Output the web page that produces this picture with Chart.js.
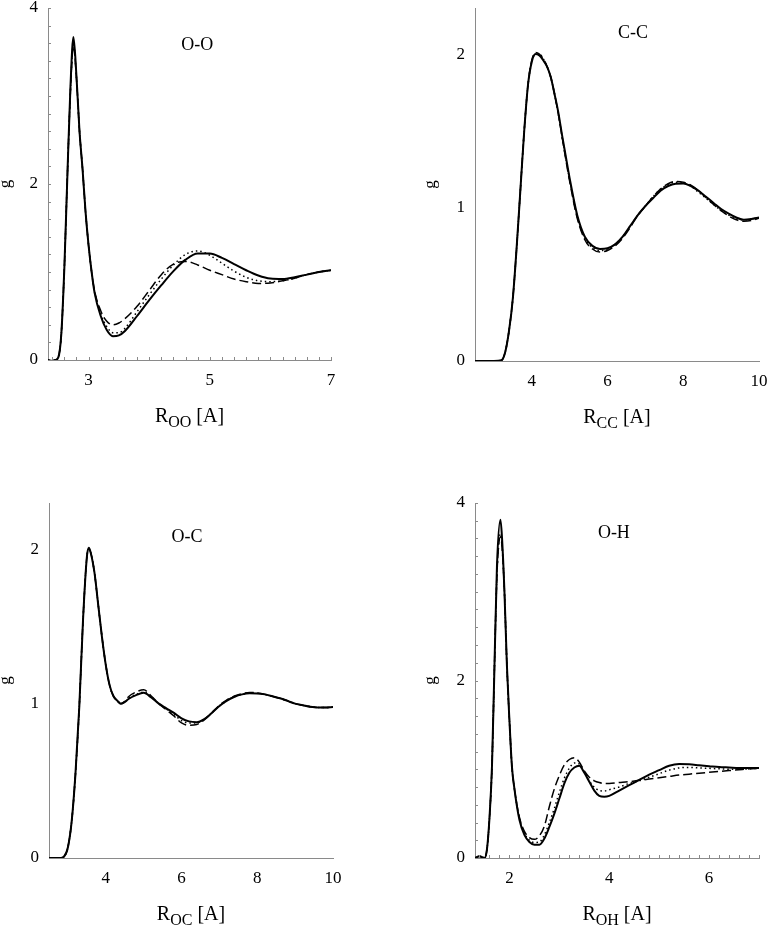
<!DOCTYPE html>
<html>
<head>
<meta charset="utf-8">
<script src="https://cdn.jsdelivr.net/npm/chart.js@4.4.1/dist/chart.umd.min.js"></script>
<style>
html,body{margin:0;padding:0;background:#fff;}
#wrap{position:relative;width:768px;height:927px;overflow:hidden;}
canvas{position:absolute;}
</style>
</head>
<body>
<div id="wrap">
<canvas id="c1" style="left:0;top:0;width:384px;height:463px"></canvas>
<canvas id="c2" style="left:384px;top:0;width:384px;height:463px"></canvas>
<canvas id="c3" style="left:0;top:463px;width:384px;height:464px"></canvas>
<canvas id="c4" style="left:384px;top:463px;width:384px;height:464px"></canvas>
</div>
<script>
// ---------- O-O ----------
const rOO = [2.33, 2.4, 2.45, 2.5, 2.55, 2.6, 2.65, 2.7, 2.75, 2.8, 2.85, 2.9, 2.95, 3.0, 3.05, 3.1, 3.2, 3.3, 3.4, 3.5, 3.6, 3.8, 4.0, 4.2, 4.4, 4.6, 4.8, 5.0, 5.2, 5.4, 5.6, 5.8, 6.0, 6.2, 6.4, 6.6, 6.8, 7.0];
const gOOsolid  = [0, -0.01, 0.0, 0.03, 0.3, 1.05, 2.1, 3.1, 3.67, 3.22, 2.6, 2.17, 1.68, 1.3, 1.0, 0.76, 0.50, 0.34, 0.27, 0.28, 0.33, 0.50, 0.68, 0.85, 1.01, 1.14, 1.21, 1.21, 1.16, 1.09, 1.02, 0.96, 0.925, 0.92, 0.94, 0.97, 1.0, 1.02];
const gOOdotted = [0, -0.01, 0.0, 0.03, 0.3, 1.05, 2.1, 3.05, 3.6, 3.2, 2.6, 2.17, 1.68, 1.3, 1.0, 0.77, 0.52, 0.38, 0.31, 0.31, 0.36, 0.55, 0.74, 0.92, 1.08, 1.2, 1.24, 1.19, 1.1, 1.01, 0.94, 0.9, 0.89, 0.9, 0.93, 0.97, 1.0, 1.02];
const gOOdashed = [0, -0.01, 0.0, 0.03, 0.3, 1.05, 2.1, 3.05, 3.57, 3.2, 2.6, 2.17, 1.68, 1.3, 1.0, 0.78, 0.56, 0.44, 0.40, 0.42, 0.47, 0.61, 0.79, 0.97, 1.09, 1.12, 1.08, 1.02, 0.97, 0.92, 0.89, 0.87, 0.875, 0.9, 0.93, 0.97, 1.0, 1.02];
const xTicksOO = [3, 5, 7];
const yTicksOO = [0, 2, 4];

// ---------- C-C ----------
const rCC = [2.5, 3.0, 3.2, 3.3, 3.4, 3.5, 3.6, 3.7, 3.8, 3.9, 4.0, 4.1, 4.2, 4.3, 4.4, 4.5, 4.6, 4.7, 4.8, 4.9, 5.0, 5.2, 5.4, 5.6, 5.8, 6.0, 6.2, 6.4, 6.6, 6.8, 7.0, 7.2, 7.4, 7.6, 7.8, 8.0, 8.2, 8.4, 8.6, 8.8, 9.0, 9.2, 9.4, 9.6, 9.8, 10.0];
const gCCsolid  = [0, 0, 0.005, 0.06, 0.2, 0.41, 0.74, 1.12, 1.5, 1.8, 1.95, 2.0, 1.99, 1.96, 1.92, 1.85, 1.74, 1.62, 1.47, 1.33, 1.19, 0.95, 0.81, 0.75, 0.73, 0.735, 0.76, 0.81, 0.88, 0.95, 1.01, 1.06, 1.11, 1.14, 1.155, 1.157, 1.14, 1.11, 1.07, 1.03, 0.99, 0.96, 0.935, 0.92, 0.925, 0.935];
const gCCdotted = [0, 0, 0.005, 0.06, 0.2, 0.41, 0.74, 1.12, 1.5, 1.8, 1.95, 2.0, 2.0, 1.97, 1.92, 1.85, 1.74, 1.61, 1.46, 1.32, 1.18, 0.94, 0.8, 0.74, 0.72, 0.73, 0.76, 0.81, 0.88, 0.95, 1.01, 1.07, 1.12, 1.15, 1.165, 1.16, 1.14, 1.1, 1.06, 1.02, 0.98, 0.95, 0.93, 0.92, 0.925, 0.935];
const gCCdashed = [0, 0, 0.005, 0.06, 0.2, 0.41, 0.74, 1.12, 1.5, 1.8, 1.96, 2.01, 2.0, 1.97, 1.92, 1.85, 1.74, 1.61, 1.46, 1.31, 1.17, 0.93, 0.79, 0.73, 0.71, 0.72, 0.75, 0.8, 0.87, 0.95, 1.01, 1.07, 1.12, 1.155, 1.17, 1.165, 1.145, 1.11, 1.065, 1.02, 0.98, 0.945, 0.92, 0.91, 0.915, 0.93];
const xTicksCC = [4, 6, 8, 10];
const yTicksCC = [0, 1, 2];

// ---------- O-C ----------
const rOC = [2.5, 2.8, 2.9, 3.0, 3.1, 3.2, 3.3, 3.4, 3.5, 3.55, 3.6, 3.7, 3.8, 3.9, 4.0, 4.1, 4.2, 4.3, 4.4, 4.5, 4.6, 4.8, 5.0, 5.2, 5.4, 5.6, 5.8, 6.0, 6.2, 6.4, 6.6, 6.8, 7.0, 7.2, 7.4, 7.6, 7.8, 8.0, 8.2, 8.4, 8.6, 8.8, 9.0, 9.2, 9.4, 9.6, 9.8, 10.0];
const gOCsolid  = [0, 0, 0.01, 0.07, 0.24, 0.55, 0.98, 1.55, 1.95, 2.01, 1.98, 1.85, 1.64, 1.43, 1.25, 1.12, 1.05, 1.02, 1.0, 1.01, 1.03, 1.055, 1.07, 1.04, 1.0, 0.97, 0.94, 0.905, 0.885, 0.88, 0.9, 0.94, 0.985, 1.02, 1.045, 1.06, 1.067, 1.066, 1.06, 1.048, 1.035, 1.018, 1.0, 0.99, 0.98, 0.975, 0.975, 0.978];
const gOCdotted = [0, 0, 0.01, 0.07, 0.24, 0.55, 0.98, 1.55, 1.95, 2.0, 1.98, 1.85, 1.64, 1.43, 1.25, 1.12, 1.05, 1.02, 1.0, 1.01, 1.035, 1.06, 1.075, 1.045, 1.0, 0.965, 0.93, 0.89, 0.875, 0.875, 0.9, 0.94, 0.985, 1.02, 1.045, 1.06, 1.068, 1.067, 1.06, 1.048, 1.035, 1.018, 1.0, 0.99, 0.98, 0.975, 0.975, 0.978];
const gOCdashed = [0, 0, 0.01, 0.07, 0.24, 0.55, 0.98, 1.55, 1.95, 2.0, 1.98, 1.85, 1.64, 1.43, 1.25, 1.12, 1.05, 1.02, 1.0, 1.015, 1.045, 1.075, 1.09, 1.05, 1.0, 0.96, 0.92, 0.875, 0.86, 0.865, 0.895, 0.94, 0.99, 1.025, 1.05, 1.065, 1.072, 1.07, 1.06, 1.048, 1.035, 1.018, 1.0, 0.99, 0.98, 0.975, 0.975, 0.978];
const xTicksOC = [4, 6, 8, 10];
const yTicksOC = [0, 1, 2];

// ---------- O-H ----------
const rOH = [1.31, 1.4, 1.45, 1.5, 1.55, 1.6, 1.65, 1.7, 1.75, 1.82, 1.85, 1.9, 1.95, 2.0, 2.05, 2.1, 2.2, 2.3, 2.4, 2.5, 2.6, 2.7, 2.8, 2.9, 3.0, 3.1, 3.2, 3.3, 3.4, 3.5, 3.6, 3.7, 3.8, 3.9, 4.0, 4.2, 4.4, 4.6, 4.8, 5.0, 5.2, 5.4, 5.6, 5.8, 6.0, 6.2, 6.4, 6.6, 6.8, 7.0];
const gOHsolid  = [0, 0.02, 0.01, 0.0, 0.1, 0.45, 1.03, 2.16, 3.29, 3.81, 3.62, 3.0, 2.16, 1.55, 1.03, 0.78, 0.43, 0.26, 0.18, 0.15, 0.15, 0.22, 0.35, 0.5, 0.67, 0.84, 0.96, 1.02, 1.04, 0.96, 0.86, 0.76, 0.7, 0.69, 0.7, 0.76, 0.82, 0.88, 0.94, 0.99, 1.04, 1.06, 1.055, 1.045, 1.035, 1.025, 1.02, 1.015, 1.015, 1.015];
const gOHdotted = [0, 0.02, 0.01, 0.0, 0.1, 0.45, 1.03, 2.16, 3.2, 3.65, 3.55, 3.0, 2.16, 1.55, 1.03, 0.78, 0.45, 0.28, 0.2, 0.175, 0.18, 0.26, 0.4, 0.56, 0.74, 0.9, 1.01, 1.07, 1.06, 0.97, 0.87, 0.8, 0.76, 0.755, 0.77, 0.8, 0.84, 0.87, 0.91, 0.95, 0.99, 1.015, 1.02, 1.015, 1.01, 1.005, 1.0, 1.0, 1.005, 1.01];
const gOHdashed = [0, 0.02, 0.01, 0.0, 0.1, 0.45, 1.03, 2.16, 3.2, 3.62, 3.52, 3.0, 2.16, 1.55, 1.03, 0.78, 0.46, 0.3, 0.23, 0.21, 0.25, 0.36, 0.58, 0.78, 0.93, 1.05, 1.11, 1.13, 1.08, 0.98, 0.91, 0.87, 0.85, 0.84, 0.84, 0.85, 0.86, 0.875, 0.89, 0.905, 0.92, 0.935, 0.945, 0.955, 0.965, 0.975, 0.985, 0.995, 1.005, 1.01];
const xTicksOH = [2, 4, 6];
const yTicksOH = [0, 2, 4];

// ---------- layout / style ----------
const AXIS = '#8a8a8a';
const FONT = '"Liberation Serif", "Times New Roman", serif';
const XAXIS_H = 40;

const panels = [
  {id:'c1', w:384, h:463, name:'O-O', sub:'OO', r:rOO, g:[gOOsolid,gOOdotted,gOOdashed], xMin:2.33, xMax:7, yMax:4, xt:xTicksOO, yt:yTicksOO,
   minor:{x0:2.4, step:0.2}, area:{l:48, r:331, t:8, b:360}, nx:0.527, ny:0.105, gx:10},
  {id:'c2', w:384, h:463, name:'C-C', sub:'CC', r:rCC, g:[gCCsolid,gCCdotted,gCCdashed], xMin:2.5, xMax:10, yMax:2.3, xt:xTicksCC, yt:yTicksCC,
   minor:null, area:{l:91, r:375, t:8, b:361}, nx:0.556, ny:0.071, gx:51},
  {id:'c3', w:384, h:464, name:'O-C', sub:'OC', r:rOC, g:[gOCsolid,gOCdotted,gOCdashed], xMin:2.5, xMax:10, yMax:2.3, xt:xTicksOC, yt:yTicksOC,
   minor:null, area:{l:49, r:333, t:40, b:395}, nx:0.486, ny:0.096, gx:10},
  {id:'c4', w:384, h:464, name:'O-H', sub:'OH', r:rOH, g:[gOHsolid,gOHdotted,gOHdashed], xMin:1.31, xMax:7, yMax:4, xt:xTicksOH, yt:yTicksOH,
   minor:{x0:1.4, step:0.2}, area:{l:91, r:375, t:40, b:395}, nx:0.489, ny:0.085, gx:51}
];

const deco = {
  id: 'deco',
  afterDraw(chart, args, o) {
    const {ctx, chartArea: a, scales: {x, y}} = chart;
    ctx.save();
    if (o.minor) {
      ctx.strokeStyle = AXIS; ctx.lineWidth = 1;
      ctx.beginPath();
      for (let v = o.minor.x0; v <= x.max + 1e-9; v += o.minor.step) {
        const p = Math.round(x.getPixelForValue(v)) + 0.5;
        ctx.moveTo(p, a.bottom); ctx.lineTo(p, a.bottom - 3);
      }
      for (let v = 0; v <= y.max + 1e-9; v += o.minor.step) {
        const p = Math.round(y.getPixelForValue(v)) + 0.5;
        ctx.moveTo(a.left, p); ctx.lineTo(a.left + 3, p);
      }
      ctx.stroke();
    }
    ctx.fillStyle = '#000';
    // panel name
    ctx.font = '18px ' + FONT;
    ctx.textAlign = 'center'; ctx.textBaseline = 'middle';
    ctx.fillText(o.name, a.left + o.nx * (a.right - a.left), a.top + o.ny * (a.bottom - a.top));
    // x axis title with subscript
    ctx.textAlign = 'left'; ctx.textBaseline = 'alphabetic';
    const f1 = '20px ' + FONT, f2 = '16px ' + FONT;
    ctx.font = f1; const w1 = ctx.measureText('R').width; const w3 = ctx.measureText(' [A]').width;
    ctx.font = f2; const w2 = ctx.measureText(o.sub).width;
    const cx = (a.left + a.right) / 2, by = a.bottom + 62;
    let sx = cx - (w1 + w2 + w3) / 2;
    ctx.font = f1; ctx.fillText('R', sx, by); sx += w1;
    ctx.font = f2; ctx.fillText(o.sub, sx, by + 5); sx += w2;
    ctx.font = f1; ctx.fillText(' [A]', sx, by);
    // y axis title
    ctx.font = '17px ' + FONT;
    ctx.translate(o.gx, (a.top + a.bottom) / 2);
    ctx.rotate(-Math.PI / 2);
    ctx.textAlign = 'center'; ctx.textBaseline = 'alphabetic';
    ctx.fillText('g', 0, 0);
    ctx.restore();
  }
};

const styles = [
  {borderWidth: 2, borderDash: []},
  {borderWidth: 1.5, borderDash: [1.5, 3]},
  {borderWidth: 1.5, borderDash: [9, 4]}
];
const names = ['solid', 'dotted', 'dashed'];

panels.forEach(p => {
  const cv = document.getElementById(p.id);
  cv.width = p.w; cv.height = p.h;
  new Chart(cv, {
    type: 'line',
    data: {
      datasets: p.g.map((vals, k) => ({
        label: names[k],
        data: p.r.map((rv, i) => ({x: rv, y: vals[i]})),
        borderColor: '#000',
        borderWidth: styles[k].borderWidth,
        borderDash: styles[k].borderDash,
        pointRadius: 0,
        fill: false,
        cubicInterpolationMode: 'monotone'
      }))
    },
    options: {
      responsive: false,
      animation: false,
      devicePixelRatio: 1,
      layout: {padding: {left: 0, top: p.area.t, right: p.w - p.area.r, bottom: p.h - p.area.b - XAXIS_H}},
      plugins: {
        legend: {display: false},
        tooltip: {enabled: false},
        deco: {name: p.name, sub: p.sub, minor: p.minor, nx: p.nx, ny: p.ny, gx: p.gx}
      },
      scales: {
        x: {
          type: 'linear', min: p.xMin, max: p.xMax,
          afterBuildTicks(s) { s.ticks = p.xt.map(v => ({value: v})); },
          afterFit(s) { s.height = XAXIS_H; s.paddingLeft = 0; s.paddingRight = 0; },
          grid: {display: false, drawTicks: false},
          border: {display: true, color: AXIS, width: 1},
          ticks: {color: '#000', font: {family: FONT, size: 17}, padding: 10, maxRotation: 0, autoSkip: false,
                  callback: v => String(v)}
        },
        y: {
          type: 'linear', min: 0, max: p.yMax,
          afterBuildTicks(s) { s.ticks = p.yt.map(v => ({value: v})); },
          afterFit(s) { s.width = p.area.l; s.paddingTop = 0; s.paddingBottom = 0; },
          grid: {display: false, drawTicks: false},
          border: {display: true, color: AXIS, width: 1},
          ticks: {color: '#000', font: {family: FONT, size: 17}, padding: 10, autoSkip: false,
                  callback: v => String(v)}
        }
      }
    },
    plugins: [deco]
  });
});
</script>
</body>
</html>
